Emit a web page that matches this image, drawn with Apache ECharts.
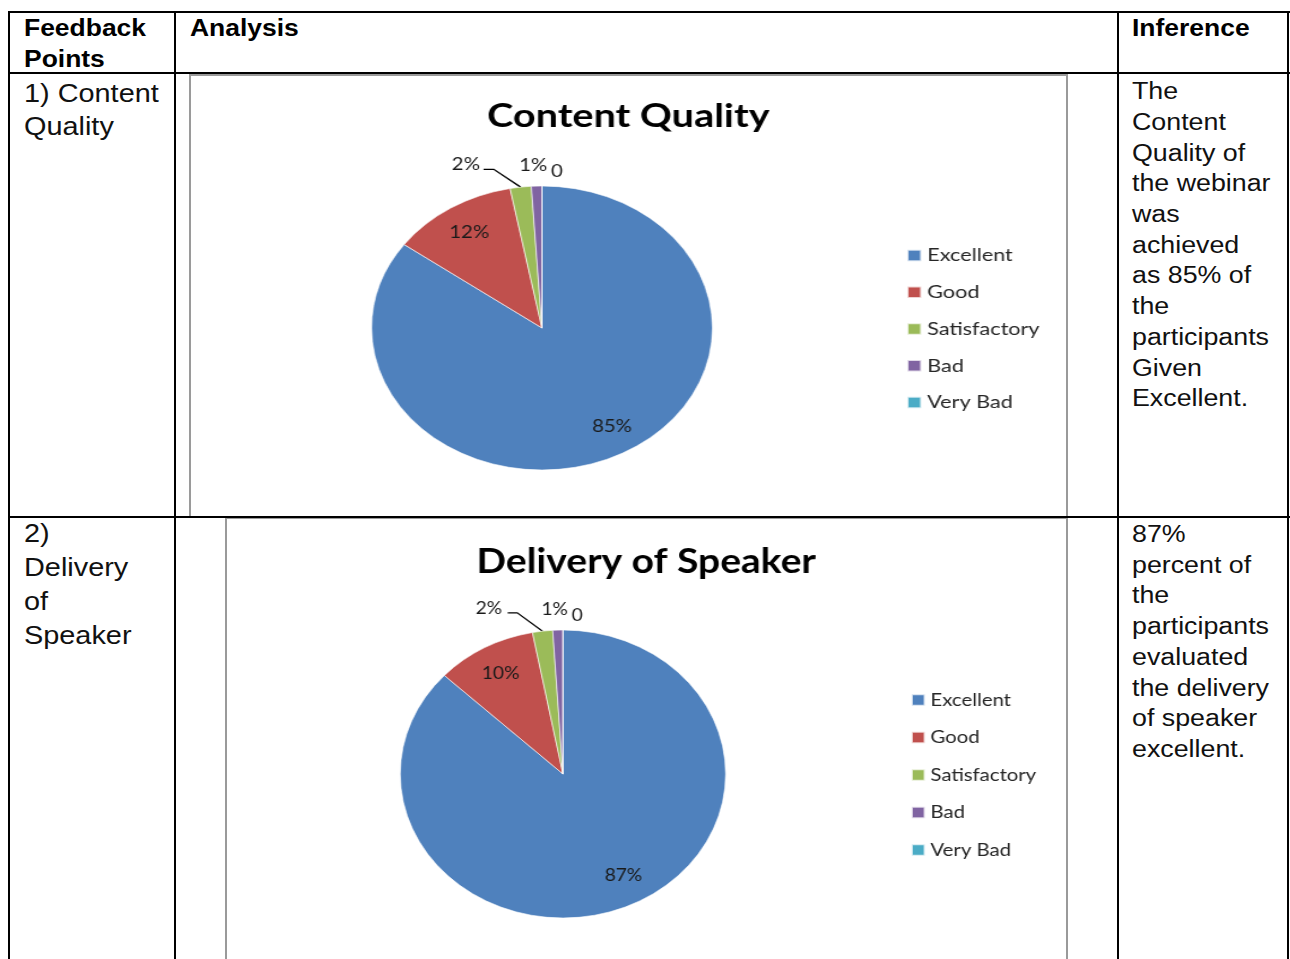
<!DOCTYPE html>
<html><head><meta charset="utf-8">
<script src="https://cdn.jsdelivr.net/npm/echarts@6/dist/echarts.min.js"></script>
<style>
body{margin:0;background:#fff;width:1290px;height:959px;overflow:hidden;position:relative;font-family:"Liberation Sans",Arial,sans-serif;}
.ln{position:absolute;background:#000;z-index:5}
.t{position:absolute;white-space:nowrap;transform:scaleX(1.15);transform-origin:0 0;color:#111;z-index:6}
.hd{font-weight:bold;font-size:23px;line-height:31px;color:#000}
.c1{font-size:26px;transform:scaleX(1.11)}
.inf{font-size:23.3px;line-height:30.7px}
.frame{position:absolute;border-style:solid;border-color:#9a9a9a;box-sizing:border-box;z-index:1}
.chart{position:absolute;transform-origin:0 0;z-index:2}
</style></head><body>

<!-- chart frames -->
<div class="frame" style="left:189px;top:74px;width:879px;height:443px;border-width:2px 2px 0 2px"></div>
<div class="frame" style="left:225px;top:518px;width:843px;height:445px;border-width:1.5px 2px 0 2px"></div>

<div id="c1" class="chart" style="left:191px;top:77px;width:729px;height:439px;transform:scaleX(1.2)"></div>
<div id="c2" class="chart" style="left:227px;top:520px;width:742px;height:439px;transform:scaleX(1.13)"></div>

<!-- table lines -->
<div class="ln" style="left:8px;top:11px;width:1282px;height:2px"></div>
<div class="ln" style="left:8px;top:72px;width:1282px;height:2px"></div>
<div class="ln" style="left:8px;top:516px;width:1282px;height:2px"></div>
<div class="ln" style="left:8px;top:11px;width:2px;height:948px"></div>
<div class="ln" style="left:174px;top:11px;width:2px;height:948px"></div>
<div class="ln" style="left:1117px;top:11px;width:2px;height:948px"></div>
<div class="ln" style="left:1287px;top:11px;width:2px;height:948px"></div>

<!-- header texts -->
<div class="t hd" style="left:24px;top:13px">Feedback<br>Points</div>
<div class="t hd" style="left:190px;top:13px">Analysis</div>
<div class="t hd" style="left:1132px;top:13px">Inference</div>

<!-- column 1 -->
<div class="t c1" style="left:24px;top:76.5px;line-height:33px">1) Content<br>Quality</div>
<div class="t c1" style="left:24px;top:515.5px;line-height:34.3px">2)<br>Delivery<br>of<br>Speaker</div>

<!-- inference column -->
<div class="t inf" style="left:1132px;top:76.2px">The<br>Content<br>Quality of<br>the webinar<br>was<br>achieved<br>as 85% of<br>the<br>participants<br>Given<br>Excellent.</div>
<div class="t inf" style="left:1132px;top:519px">87%<br>percent of<br>the<br>participants<br>evaluated<br>the delivery<br>of speaker<br>excellent.</div>

<script>
// ---- data ----
const categories = ['Excellent', 'Good', 'Satisfactory', 'Bad', 'Very Bad'];
const contentQuality = [0.85, 0.12, 0.02, 0.01, 0];
const deliveryOfSpeaker = [0.87, 0.10, 0.02, 0.01, 0];
const chartTitles = ['Content Quality', 'Delivery of Speaker'];
const sliceColors = ['#4F81BD', '#C0504D', '#9BBB59', '#8064A2', '#4BACC6'];

function fmt(v) { return v > 0 ? Math.round(v * 100) + '%' : '0'; }

function makeOption(title, values, cfg) {
  const smallLabel = { show: true, position: 'outside', fontFamily: 'Lato', fontSize: 17, color: '#1a1a1a',
    formatter: p => fmt(p.value) };
  const mainData = categories.map((c, i) => {
    const v = values[i];
    const d = { name: c, value: v, itemStyle: { color: sliceColors[i] } };
    if (v < 0.05) {
      d.label = smallLabel;
      if (i === 2) d.labelLine = { show: true, length: 23, length2: 10, smooth: false, lineStyle: { color: '#000', width: 1.3 } };
      else if (i === 3) d.labelLine = { show: false, length: 21, length2: 0 };
      else d.labelLine = { show: false, length: 14, length2: 0 };
    } else {
      d.label = { show: false };
    }
    return d;
  });
  const overlayData = categories.map((c, i) => ({
    name: c, value: values[i],
    label: { show: values[i] >= 0.05 }
  }));
  return {
    animation: false,
    title: { text: title, left: 'center', top: cfg.titleTop, padding: 0,
      textStyle: { fontFamily: 'Lato', fontWeight: 'bold', fontSize: cfg.titleSize, color: '#000' } },
    legend: {
      orient: 'vertical', left: cfg.legendLeft, top: cfg.legendTop, padding: 0,
      itemGap: cfg.legendGap, itemWidth: 11.5, itemHeight: 11.5, icon: 'rect',
      data: categories,
      textStyle: { fontFamily: 'Lato', fontSize: 18, color: '#262626', lineHeight: 20 },
      selectedMode: false
    },
    series: [
      {
        type: 'pie', center: cfg.center, radius: cfg.r, startAngle: 90, clockwise: true,
        avoidLabelOverlap: false, silent: true,
        itemStyle: { borderColor: 'rgba(255,255,255,0.75)', borderWidth: 0.8 },
        label: { show: false },
        data: mainData,
        labelLayout: function (p) {
          const i = p.dataIndex;
          if (i === 2) {
            const g = cfg.greenDx, pts = p.labelLinePoints, s = cfg.lineShift;
            const out = { dx: g };
            if (pts) {
              out.labelLinePoints = [pts[0], [pts[1][0] + s[0], pts[1][1] + s[1]], [pts[2][0] + s[0] + 1.5, pts[2][1] + s[1]]];
            }
            return out;
          }
          if (i === 3) return { dx: cfg.purpleDx };
          if (i === 4) {
            return { dx: p.align === 'right' ? cfg.zeroGap + 5 + p.labelRect.width : cfg.zeroGap - 5 };
          }
          return {};
        }
      },
      {
        type: 'pie', center: cfg.center, radius: [cfg.r * 0.55, cfg.r], startAngle: 90, clockwise: true,
        silent: true, avoidLabelOverlap: false,
        itemStyle: { color: 'rgba(0,0,0,0)', borderWidth: 0 },
        label: { position: 'inside', fontFamily: 'Lato', fontSize: 17, color: '#1a1a1a',
          formatter: p => fmt(p.value) },
        labelLine: { show: false },
        data: overlayData,
        labelLayout: function (p) {
          return p.dataIndex === 0 ? { dx: cfg.bigNudge[0], dy: cfg.bigNudge[1] } : {};
        }
      }
    ]
  };
}

const ch1 = echarts.init(document.getElementById('c1'), null, { renderer: 'canvas' });
ch1.setOption(makeOption(chartTitles[0], contentQuality, {
  titleTop: 23, titleSize: 33, center: [292.5, 251], r: 142,
  legendLeft: 596, legendTop: 168.5, legendGap: 16.75,
  greenDx: -16, lineShift: [-19.5, 5], purpleDx: 14.5, zeroGap: 7.5,
  bigNudge: [7, -2]
}));
const ch2 = echarts.init(document.getElementById('c2'), null, { renderer: 'canvas' });
ch2.setOption(makeOption(chartTitles[1], deliveryOfSpeaker, {
  titleTop: 24, titleSize: 34.5, center: [297.3, 254], r: 144,
  legendLeft: 605, legendTop: 170, legendGap: 17.5,
  greenDx: -18, lineShift: [-19.5, 4.5], purpleDx: 14.5, zeroGap: 7.7,
  bigNudge: [8, -4]
}));
</script>
</body></html>
